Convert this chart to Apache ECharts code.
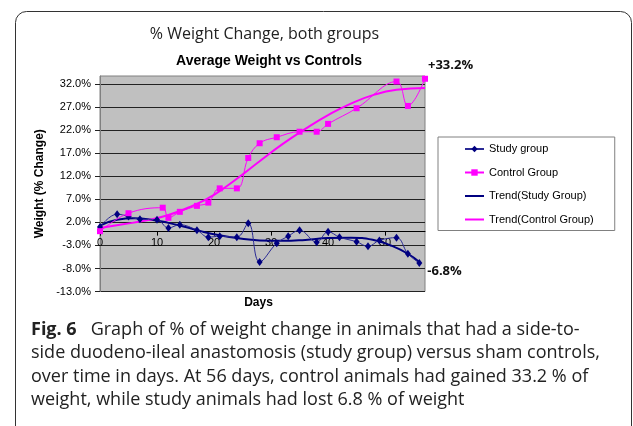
<!DOCTYPE html>
<html>
<head>
<meta charset="utf-8">
<script src="https://cdn.jsdelivr.net/npm/echarts@6/dist/echarts.min.js"></script>
<style>
  html, body { margin: 0; padding: 0; background: #fff; }
  #chart { width: 633px; height: 426px; }
</style>
</head>
<body>
<div id="chart"></div>
<script>
// 数据：天数 / 体重变化 (%)
var studyDays = [0, 3, 5, 7, 10, 12, 14, 17, 19, 21, 24, 26, 28, 31, 33, 35, 38, 40, 42, 45, 47, 49, 52, 54, 56]
var studyValues = [1.0, 3.8, 3.3, 2.7, 2.6, 0.8, 1.5, 0.3, -1.2, -1.0, -1.2, 1.8, -6.6, -2.5, -1.0, 0.3, -2.3, 0.0, -1.2, -2.2, -3.2, -1.9, -1.3, -4.8, -6.8]

var controlDays = [0, 5, 11, 12, 14, 17, 19, 21, 24, 26, 28, 31, 35, 38, 40, 45, 52, 54, 57]
var controlValues = [0.1, 4.0, 5.2, 3.0, 4.3, 5.6, 6.3, 9.4, 9.4, 16.0, 19.2, 20.5, 21.7, 21.7, 23.4, 26.8, 32.6, 27.3, 33.2]

// 趋势线（从图上读取的点）
var studyTrendDays = [0, 3, 6, 9, 12, 15, 18, 21, 24, 28, 32, 36, 40, 44, 48, 51, 54, 56]
var studyTrendValues = [1.3, 2.6, 2.9, 2.6, 1.9, 1.0, 0.0, -0.8, -1.4, -1.9, -2.0, -1.8, -1.4, -1.3, -1.8, -3.0, -4.8, -6.6]

var controlTrendDays = [0, 4, 8, 12, 16, 20, 24, 28, 32, 36, 40, 44, 48, 52, 57]
var controlTrendValues = [0.8, 1.6, 2.4, 3.6, 5.5, 8.0, 11.5, 15.3, 19.0, 22.3, 25.3, 27.8, 29.7, 30.8, 31.2]

var legendNames = ['Study group', 'Control Group', 'Trend(Study Group)', 'Trend(Control Group)']

var captionLines = [
  '{b|Fig. 6}   Graph of % of weight change in animals that had a side-to-',
  'side duodeno-ileal anastomosis (study group) versus sham controls,',
  'over time in days. At 56 days, control animals had gained 33.2 % of',
  'weight, while study animals had lost 6.8 % of weight'
]

var yMin = -13
var yMax = 33.8
var gridTop = 76
var gridBottom = 134.5
var gridHeight = 426 - gridTop - gridBottom

function pairs (xs, ys) {
  var out = []
  for (let i = 0; i < xs.length; i++) {
    out.push([xs[i], ys[i]])
  }
  return out
}

var studyData = pairs(studyDays, studyValues)
var controlData = pairs(controlDays, controlValues)

// 最后一个点加标注
var labelFont = { fontFamily: 'Open Sans', fontWeight: 'bold', fontSize: 13, color: '#111' }
controlData[controlData.length - 1] = {
  value: controlData[controlData.length - 1],
  label: Object.assign({ show: true, position: [6, -17], formatter: '+33.2%' }, labelFont)
}
studyData[studyData.length - 1] = {
  value: studyData[studyData.length - 1],
  label: Object.assign({ show: true, position: [11, 6], formatter: '-6.8%' }, labelFont)
}

// 图例：趋势线只显示线，不显示点
var legendData = legendNames.map(function (name) {
  if (name.indexOf('Trend') === 0) {
    return { name: name, itemStyle: { opacity: 0 } }
  }
  return { name: name }
})

var axisFont = 'Arial, "Liberation Sans", sans-serif'

var captionGraphics = []
for (let i = 0; i < captionLines.length; i++) {
  captionGraphics.push({
    type: 'text',
    x: 31,
    y: 330 + i * 23.2,
    style: {
      text: captionLines[i],
      font: '18px "Open Sans"',
      fill: '#222',
      textVerticalAlign: 'middle',
      rich: {
        b: { font: 'bold 18px "Open Sans"', fill: '#222' }
      }
    }
  })
}

var chart = echarts.init(document.getElementById('chart'))
chart.setOption({
  backgroundColor: '#fff',
  animation: false,
  grid: {
    left: 100,
    top: gridTop,
    right: 208,
    bottom: gridBottom,
    show: true,
    backgroundColor: '#c0c0c0',
    borderColor: '#808080',
    borderWidth: 1
  },
  legend: {
    orient: 'vertical',
    left: 438,
    top: 137,
    data: legendData,
    backgroundColor: '#fff',
    borderColor: '#808080',
    borderWidth: 1,
    padding: [5, 21, 4, 26],
    itemWidth: 19,
    itemHeight: 8,
    itemGap: 9.5,
    textStyle: { fontFamily: axisFont, fontSize: 11, color: '#000', lineHeight: 14 }
  },
  xAxis: {
    type: 'value',
    min: 0,
    max: 57,
    interval: 10,
    // x 轴放在 0% 的位置
    offset: -(0 - yMin) / (yMax - yMin) * gridHeight,
    axisLine: { show: true, onZero: false, lineStyle: { color: '#000', width: 1 } },
    axisTick: { show: true, length: 4, lineStyle: { color: '#000' } },
    axisLabel: { showMaxLabel: false, margin: 6, fontFamily: axisFont, fontSize: 11, color: '#000' },
    splitLine: { show: false }
  },
  yAxis: {
    type: 'value',
    min: yMin,
    max: yMax,
    interval: 5,
    name: 'Weight (% Change)',
    nameLocation: 'middle',
    nameGap: 48,
    nameTextStyle: { fontFamily: axisFont, fontWeight: 'bold', fontSize: 12, color: '#000' },
    axisLine: { show: true, onZero: false, lineStyle: { color: '#808080' } },
    axisTick: { show: true, length: 5, lineStyle: { color: '#222' } },
    axisLabel: {
      showMaxLabel: false,
      margin: 9,
      fontFamily: axisFont,
      fontSize: 11,
      color: '#000',
      formatter: function (v) {
        return v.toFixed(1) + '%'
      }
    },
    splitLine: { show: true, showMaxLine: false, lineStyle: { color: '#222', width: 1 } }
  },
  series: [
    {
      name: 'Study group',
      type: 'line',
      data: studyData,
      smooth: 0.4,
      symbol: 'diamond',
      symbolSize: [6, 8],
      itemStyle: { color: '#000080' },
      lineStyle: { color: '#2a2a95', width: 1 },
      z: 3
    },
    {
      name: 'Control Group',
      type: 'line',
      data: controlData,
      smooth: 0.4,
      symbol: 'rect',
      symbolSize: 6,
      itemStyle: { color: '#ff00ff' },
      lineStyle: { color: '#ff00ff', width: 1 },
      z: 3
    },
    {
      name: 'Trend(Study Group)',
      type: 'line',
      data: pairs(studyTrendDays, studyTrendValues),
      smooth: 0.5,
      symbol: 'none',
      itemStyle: { color: '#000080' },
      lineStyle: { color: '#000080', width: 2 },
      z: 2
    },
    {
      name: 'Trend(Control Group)',
      type: 'line',
      data: pairs(controlTrendDays, controlTrendValues),
      smooth: 0.5,
      symbol: 'none',
      itemStyle: { color: '#ff00ff' },
      lineStyle: { color: '#ff00ff', width: 2 },
      z: 2
    }
  ],
  graphic: [
    {
      type: 'rect',
      shape: { x: 15.5, y: 11.5, width: 616, height: 500, r: 11 },
      style: { fill: 'none', stroke: '#333', lineWidth: 1 },
      silent: true
    },
    {
      type: 'text',
      x: 264.5,
      y: 34,
      style: {
        text: '% Weight Change, both groups',
        font: '16px "Open Sans"',
        fill: '#222',
        textAlign: 'center',
        textVerticalAlign: 'middle'
      }
    },
    {
      type: 'text',
      x: 269,
      y: 61,
      style: {
        text: 'Average Weight vs Controls',
        font: 'bold 14px Arial, "Liberation Sans"',
        fill: '#000',
        textAlign: 'center',
        textVerticalAlign: 'middle'
      }
    },
    {
      type: 'text',
      x: 258.5,
      y: 303,
      style: {
        text: 'Days',
        font: 'bold 12px Arial, "Liberation Sans"',
        fill: '#000',
        textAlign: 'center',
        textVerticalAlign: 'middle'
      }
    }
  ].concat(captionGraphics)
})
</script>
</body>
</html>
